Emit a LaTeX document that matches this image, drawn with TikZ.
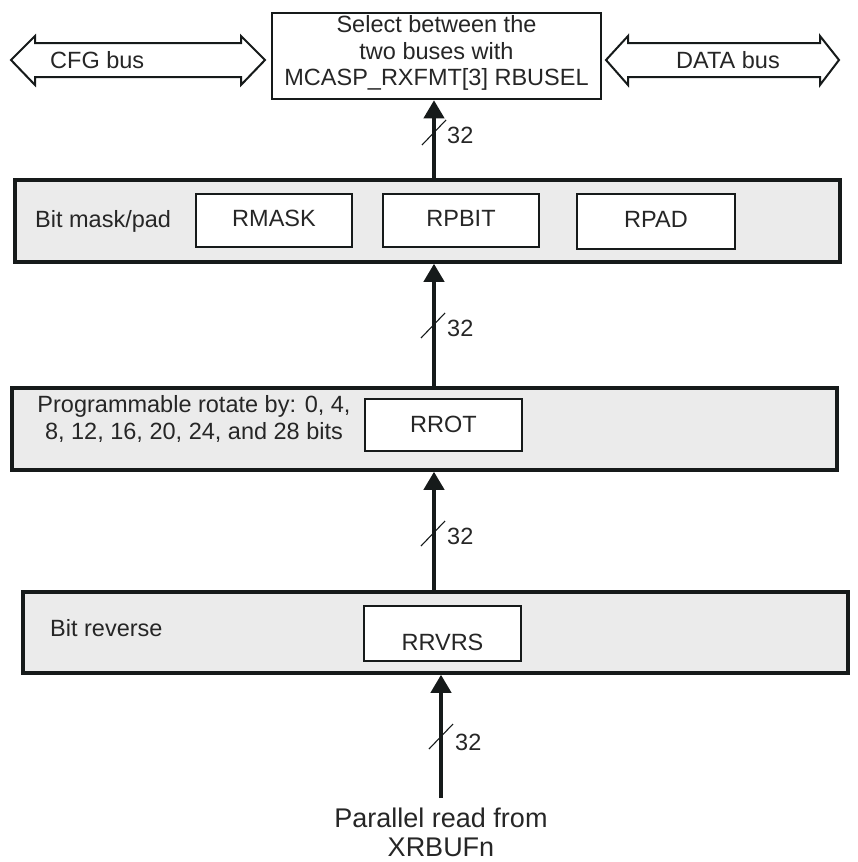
\documentclass[tikz,border=0pt]{standalone}
\usepackage{fontspec}
\setmainfont{Liberation Sans}
\usetikzlibrary{arrows.meta}
\definecolor{txt}{HTML}{262626}
\definecolor{panel}{HTML}{EBEBEB}
\definecolor{edge}{HTML}{161A1A}
\tikzset{
  every node/.style={font=\fontsize{23.5}{26.5}\selectfont, text=txt},
  panelbox/.style={draw=edge, line width=3.5pt, fill=panel, rectangle, minimum width=825pt, minimum height=81pt, inner sep=0pt},
  regbox/.style={draw=edge, line width=2pt, fill=white, rectangle, inner sep=0pt},
  topbox/.style={draw=edge, line width=2.5pt, fill=white, rectangle, inner sep=0pt, align=center},
  busshape/.style={draw=edge, line width=2pt, fill=white, line join=miter},
  busarrow/.style={draw=edge, line width=4pt, -{Triangle[length=18pt,width=20pt]}},
  slash/.style={draw=edge, line width=1.1pt},
  lbl/.style={inner sep=0pt}
}
\begin{document}
\begin{tikzpicture}[x=1pt,y=-1pt]
\useasboundingbox (0,0) rectangle (858,862);
% bus arrows
\draw[busshape] (11,60) -- (35,36) -- (35,43) -- (241,43) -- (241,36) -- (265,60) -- (241,85) -- (241,77) -- (35,77) -- (35,85) -- cycle;
\draw[busshape] (606,60) -- (628,36) -- (628,43) -- (820,43) -- (820,36) -- (839,60) -- (820,85) -- (820,77) -- (628,77) -- (628,85) -- cycle;
\node[lbl, anchor=west] (cfg) at (50,60) {CFG bus};
\node[lbl] (data) at (728,60) {DATA bus};
% top select box
\node[topbox, minimum width=329pt, minimum height=86pt] (top) at (436.5,56) {};
\node[lbl, align=center] (toptext) at (436.5,53) {Select between the\\two buses with\\MCASP\_RXFMT[3] RBUSEL};
% panels
\node[panelbox, minimum height=82pt] (mask) at (427.5,221) {};
\node[panelbox, minimum height=82pt] (rot) at (424.5,429) {};
\node[panelbox] (rev) at (435.5,632.5) {};
% register boxes
\node[regbox, minimum width=156pt, minimum height=53pt] (rmask) at (274,220.5) {};
\node[regbox, minimum width=156pt, minimum height=53pt] (rpbit) at (461,220.5) {};
\node[regbox, minimum width=158pt, minimum height=55pt] (rpad) at (656,221.5) {};
\node[regbox, minimum width=157pt, minimum height=52pt] (rrot) at (443.5,425) {};
\node[regbox, minimum width=157pt, minimum height=55pt] (rrvrs) at (442.5,633.5) {};
\node[lbl] at (rmask.center) [yshift=2pt] {RMASK};
\node[lbl] at (rpbit.center) [yshift=2pt] {RPBIT};
\node[lbl] at (rpad.center) [yshift=2pt] {RPAD};
\node[lbl] at (rrot.center) [yshift=1pt] {RROT};
\node[lbl] at (rrvrs.center) [yshift=-9pt] {RRVRS};
% panel labels
\node[lbl, anchor=west] (masklbl) at (35,221) {Bit mask/pad};
\node[lbl, align=center] (rotlbl) at (194,419) {Programmable rotate by: 0, 4,\\8, 12, 16, 20, 24, and 28 bits};
\node[lbl, anchor=west] (revlbl) at (50,628) {Bit reverse};
% arrows
\coordinate (ax) at (434,0);
\coordinate (bx) at (441,0);
\coordinate (src) at (441,798);
\draw[busarrow] (mask.north -| ax) -- (top.south -| ax);
\draw[busarrow] (rot.north -| ax) -- (mask.south -| ax);
\draw[busarrow] (rev.north -| ax) -- (rot.south -| ax);
\draw[busarrow] (src) -- (rev.south -| bx);
% bus width slashes
\draw[slash] (422,145) -- (446,120);
\node[lbl, anchor=west] (w1) at (447,135) {32};
\draw[slash] (421,338) -- (445,313);
\node[lbl, anchor=west] (w2) at (447,328) {32};
\draw[slash] (421,546) -- (445,521);
\node[lbl, anchor=west] (w3) at (447,536) {32};
\draw[slash] (429,749) -- (453,724);
\node[lbl, anchor=west] (w4) at (455,742) {32};
% source label
\node[lbl, align=center, font=\fontsize{27}{29}\selectfont] (srclbl) at (441,832) {Parallel read from\\XRBUFn};
\end{tikzpicture}
\end{document}
